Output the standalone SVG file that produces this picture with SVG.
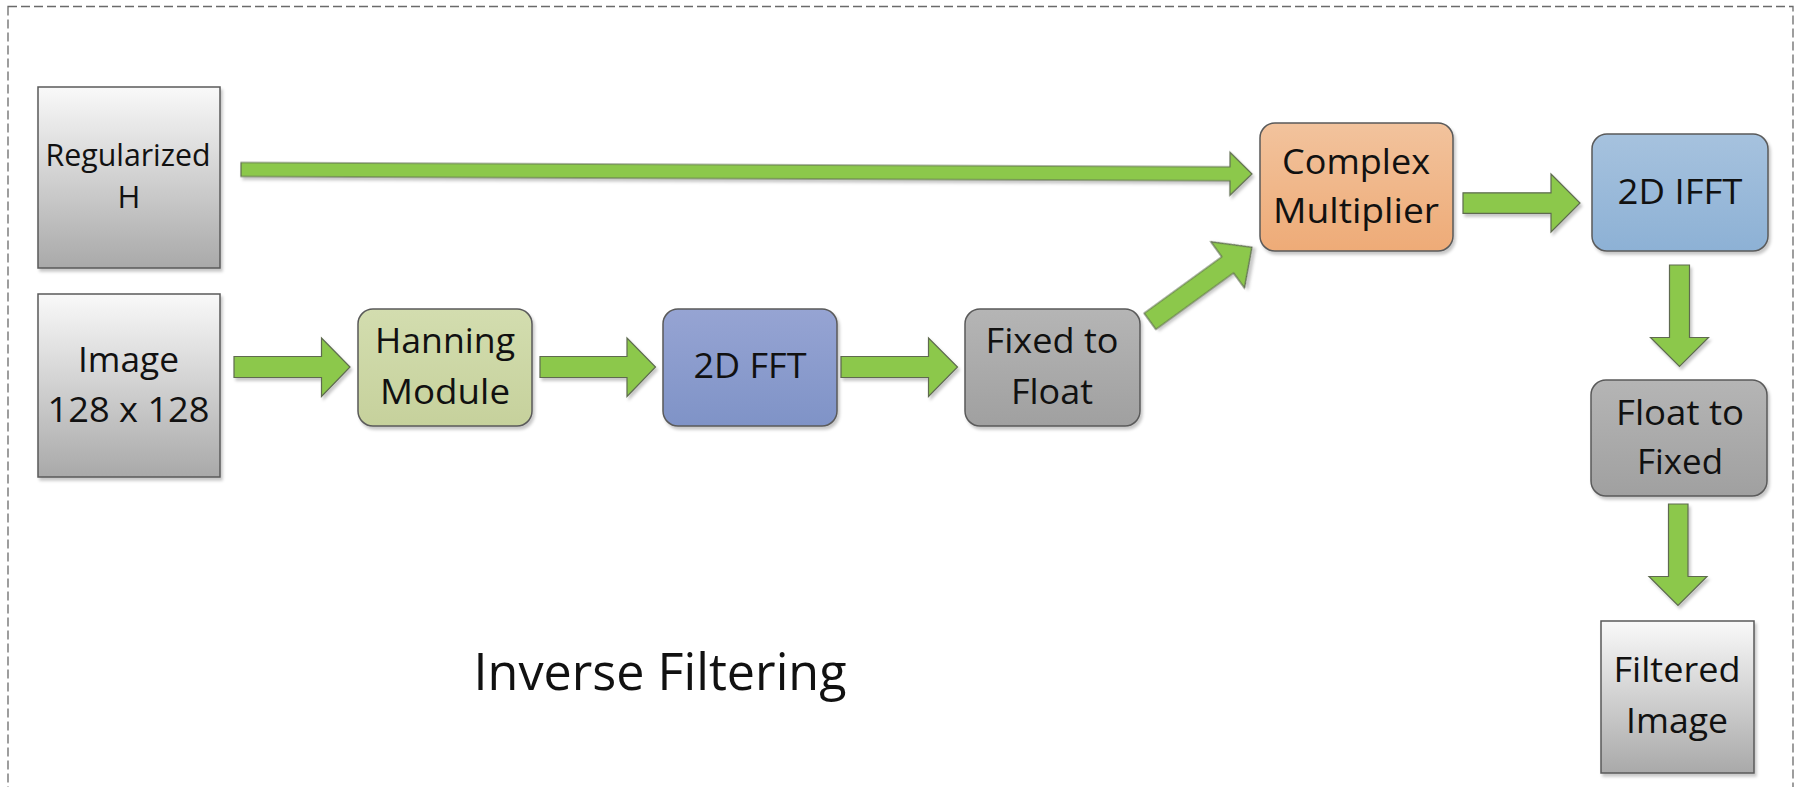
<svg xmlns="http://www.w3.org/2000/svg" width="1800" height="787" viewBox="0 0 1800 787">
<defs>
<linearGradient id="gGray" x1="0" y1="0" x2="0" y2="1"><stop offset="0" stop-color="#f9f9f9"/><stop offset="1" stop-color="#a9a9a9"/></linearGradient>
<linearGradient id="gHan" x1="0" y1="0" x2="0" y2="1"><stop offset="0" stop-color="#d3ddaf"/><stop offset="1" stop-color="#c6d19c"/></linearGradient>
<linearGradient id="gFFT" x1="0" y1="0" x2="0" y2="1"><stop offset="0" stop-color="#96a4d3"/><stop offset="1" stop-color="#7f93c7"/></linearGradient>
<linearGradient id="gDark" x1="0" y1="0" x2="0" y2="1"><stop offset="0" stop-color="#b5b5b5"/><stop offset="1" stop-color="#a0a0a0"/></linearGradient>
<linearGradient id="gCM" x1="0" y1="0" x2="0" y2="1"><stop offset="0" stop-color="#f2c39d"/><stop offset="1" stop-color="#eeab77"/></linearGradient>
<linearGradient id="gIFFT" x1="0" y1="0" x2="0" y2="1"><stop offset="0" stop-color="#a6c2de"/><stop offset="1" stop-color="#8db1d5"/></linearGradient>
<filter id="sh" x="-10%" y="-10%" width="130%" height="130%"><feDropShadow dx="2" dy="3" stdDeviation="1.5" flood-color="#000" flood-opacity="0.22"/></filter>
</defs>
<style>
.box{stroke:#5a5a5a;stroke-width:1.5;filter:url(#sh)}
.arr{fill:#8cc84b;stroke:#5e6b50;stroke-width:1.2;filter:url(#sh)}
text{font-family:"Open Sans","Noto Sans","Liberation Sans",sans-serif;fill:#111;text-anchor:middle}
.t{font-size:35px}
.s{font-size:31px}
</style>
<rect x="8" y="6.5" width="1785" height="800" fill="none" stroke="#6a6a6a" stroke-width="1.3" stroke-dasharray="9,4"/>
<g id="connectors">
<polygon class="arr" transform="translate(241,169.5) rotate(0.25)" points="0,-7 989,-7 989,-21.5 1011,0 989,21.5 989,7 0,7"/>
<polygon class="arr" points="234,356.5 321.5,356.5 321.5,338 350,367 321.5,396.5 321.5,377.5 234,377.5"/>
<polygon class="arr" points="540,356.5 627,356.5 627,338 655.5,367 627,396.5 627,377.5 540,377.5"/>
<polygon class="arr" points="841,356.5 928.5,356.5 928.5,338 957.5,367 928.5,396.5 928.5,377.5 841,377.5"/>
<polygon class="arr" transform="translate(1150,321.3) rotate(-36)" points="0,-10 96,-10 96,-28.5 126,0 96,28.5 96,10 0,10"/>
<polygon class="arr" points="1463,192.8 1551,192.8 1551,174 1580,203 1551,232 1551,213.3 1463,213.3"/>
<polygon class="arr" points="1669.5,265 1689.5,265 1689.5,337.5 1708.5,337.5 1679.5,366.5 1650.5,337.5 1669.5,337.5"/>
<polygon class="arr" points="1668.5,504 1688,504 1688,576.5 1707,576.5 1678,605.5 1649,576.5 1668.5,576.5"/>
</g>
<g id="regH">
<rect class="box" x="38" y="87" width="182" height="181" fill="url(#gGray)"/>
<text class="s" x="128" y="166" textLength="165" lengthAdjust="spacingAndGlyphs">Regularized</text>
<text class="s" x="129" y="208">H</text>
</g>
<g id="image">
<rect class="box" x="38" y="294" width="182" height="183" fill="url(#gGray)"/>
<text class="t" x="128.5" y="372" textLength="101" lengthAdjust="spacingAndGlyphs">Image</text>
<text class="t" x="128.5" y="422" textLength="162" lengthAdjust="spacingAndGlyphs">128 x 128</text>
</g>
<g id="hanning">
<rect class="box" x="358" y="309" width="174" height="117" rx="15" fill="url(#gHan)"/>
<text class="t" x="445" y="353" textLength="140" lengthAdjust="spacingAndGlyphs">Hanning</text>
<text class="t" x="445" y="404" textLength="130" lengthAdjust="spacingAndGlyphs">Module</text>
</g>
<g id="fft">
<rect class="box" x="663" y="309" width="174" height="117" rx="15" fill="url(#gFFT)"/>
<text class="t" x="750" y="378" textLength="113" lengthAdjust="spacingAndGlyphs">2D FFT</text>
</g>
<g id="fixed2float">
<rect class="box" x="965" y="309" width="175" height="117" rx="15" fill="url(#gDark)"/>
<text class="t" x="1052" y="353" textLength="133" lengthAdjust="spacingAndGlyphs">Fixed to</text>
<text class="t" x="1052" y="404" textLength="82" lengthAdjust="spacingAndGlyphs">Float</text>
</g>
<g id="complex">
<rect class="box" x="1260" y="123" width="193" height="128" rx="15" fill="url(#gCM)"/>
<text class="t" x="1356" y="174" textLength="148" lengthAdjust="spacingAndGlyphs">Complex</text>
<text class="t" x="1356" y="223" textLength="166" lengthAdjust="spacingAndGlyphs">Multiplier</text>
</g>
<g id="ifft">
<rect class="box" x="1592" y="134" width="176" height="117" rx="15" fill="url(#gIFFT)"/>
<text class="t" x="1680" y="204" textLength="125" lengthAdjust="spacingAndGlyphs">2D IFFT</text>
</g>
<g id="float2fixed">
<rect class="box" x="1591" y="380" width="176" height="116" rx="15" fill="url(#gDark)"/>
<text class="t" x="1680" y="425" textLength="128" lengthAdjust="spacingAndGlyphs">Float to</text>
<text class="t" x="1680" y="474" textLength="86" lengthAdjust="spacingAndGlyphs">Fixed</text>
</g>
<g id="filtered">
<rect class="box" x="1601" y="621" width="153" height="152" fill="url(#gGray)"/>
<text class="t" x="1677" y="682" textLength="127" lengthAdjust="spacingAndGlyphs">Filtered</text>
<text class="t" x="1677" y="733" textLength="102" lengthAdjust="spacingAndGlyphs">Image</text>
</g>
<g id="title">
<text x="660" y="690" font-size="52" textLength="373" lengthAdjust="spacingAndGlyphs">Inverse Filtering</text>
</g>
</svg>
